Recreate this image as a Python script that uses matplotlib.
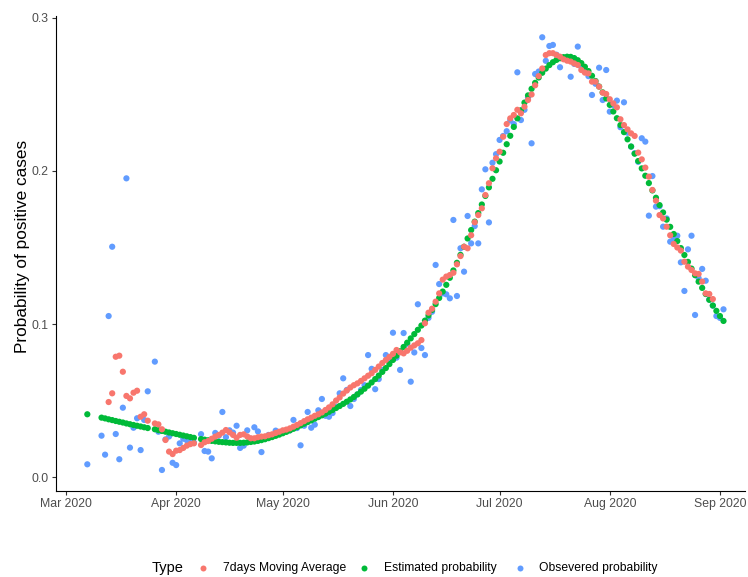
"""Daily probability of positive cases, Mar-Sep 2020 (observed, estimated, 7-day MA)."""

import numpy as np
import matplotlib

matplotlib.use("Agg")
import matplotlib.dates as mdates
import matplotlib.pyplot as plt
from matplotlib.lines import Line2D

nan = np.nan

# --- Data -------------------------------------------------------------------
# one value per day starting at the given date, nan = no record that day
OBS_START = "2020-03-07"
observed = [
    0.0083, nan, nan, nan, 0.0270, 0.0146, 0.1052, 0.1505, 0.0281, 0.0116,
    0.0453, 0.1952, 0.0192, 0.0322, 0.0384, 0.0176, 0.0373, 0.0560, nan, 0.0754,
    0.0296, 0.0046, 0.0246, 0.0265, 0.0093, 0.0078, 0.0220, 0.0250, 0.0240, 0.0230,
    0.0225, nan, 0.0280, 0.0170, 0.0166, 0.0122, 0.0288, 0.0270, 0.0425, 0.0260,
    0.0305, 0.0290, 0.0335, 0.0190, 0.0205, 0.0305, 0.0250, 0.0325, 0.0298, 0.0163,
    0.0253, 0.0275, 0.0270, 0.0303, 0.0290, 0.0295, 0.0301, 0.0305, 0.0373, 0.0320,
    0.0207, 0.0335, 0.0425, 0.0322, 0.0342, 0.0436, 0.0510, 0.0400, 0.0394, 0.0418,
    0.0460, 0.0547, 0.0645, 0.0569, 0.0464, 0.0510, 0.0540, 0.0569, 0.0600, 0.0797,
    0.0707, 0.0574, 0.0640, 0.0700, 0.0797, 0.0760, 0.0943, 0.0780, 0.0700, 0.0941,
    0.0871, 0.0623, 0.0814, 0.1129, 0.0843, 0.0797, 0.1040, 0.1080, 0.1386, 0.1261,
    0.1200, 0.1194, 0.1168, 0.1680, 0.1183, 0.1495, 0.1342, 0.1706, 0.1527, 0.1640,
    0.1527, 0.1880, 0.2011, 0.1664, 0.2054, 0.2110, 0.2203, 0.2229, 0.2260, 0.2330,
    0.2307, 0.2645, 0.2333, 0.2400, 0.2480, 0.2181, 0.2634, 0.2650, 0.2874, 0.2720,
    0.2817, 0.2824, 0.2760, 0.2678, 0.2740, 0.2730, 0.2616, 0.2700, 0.2813, 0.2680,
    0.2650, 0.2620, 0.2497, 0.2570, 0.2675, 0.2464, 0.2660, 0.2388, 0.2430, 0.2460,
    0.2286, 0.2449, 0.2250, 0.2159, 0.2116, 0.2060, 0.2214, 0.2192, 0.1708, 0.1967,
    0.1767, 0.1770, 0.1636, 0.1690, 0.1538, 0.1560, 0.1577, 0.1403, 0.1216, 0.1488,
    0.1577, 0.1059, 0.1300, 0.1360, 0.1283, 0.1160, 0.1120, 0.1052, 0.1040, 0.1096,
]

EST_START = "2020-03-07"
estimated = [
    0.0410, nan, nan, nan, 0.0388, 0.0383, 0.0377, 0.0372, 0.0366, 0.0361,
    0.0356, 0.0350, 0.0345, 0.0340, 0.0335, 0.0330, 0.0325, 0.0320, nan, 0.0312,
    0.0306, 0.0301, 0.0296, 0.0291, 0.0286, 0.0281, 0.0276, 0.0271, 0.0266, 0.0261,
    0.0256, nan, 0.0248, 0.0244, 0.0240, 0.0236, 0.0233, 0.0230, 0.0228, 0.0226,
    0.0224, 0.0223, 0.0223, 0.0223, 0.0224, 0.0226, 0.0229, 0.0232, 0.0236, 0.0241,
    0.0247, 0.0254, 0.0261, 0.0269, 0.0277, 0.0286, 0.0295, 0.0305, 0.0315, 0.0326,
    0.0337, 0.0348, 0.0359, 0.0370, 0.0381, 0.0392, 0.0403, 0.0414, 0.0426, 0.0438,
    0.0451, 0.0464, 0.0478, 0.0492, 0.0507, 0.0523, 0.0540, 0.0558, 0.0577, 0.0597,
    0.0618, 0.0640, 0.0663, 0.0687, 0.0712, 0.0738, 0.0765, 0.0793, 0.0822, 0.0850,
    0.0878, 0.0906, 0.0934, 0.0962, 0.0990, 0.1022, 0.1056, 0.1092, 0.1130, 0.1170,
    0.1212, 0.1256, 0.1302, 0.1350, 0.1400, 0.1452, 0.1505, 0.1559, 0.1614, 0.1669,
    0.1725, 0.1781, 0.1837, 0.1893, 0.1949, 0.2005, 0.2062, 0.2119, 0.2175, 0.2230,
    0.2288, 0.2344, 0.2397, 0.2447, 0.2494, 0.2537, 0.2576, 0.2611, 0.2642, 0.2669,
    0.2692, 0.2711, 0.2726, 0.2737, 0.2744, 0.2747, 0.2746, 0.2738, 0.2724, 0.2705,
    0.2681, 0.2653, 0.2622, 0.2588, 0.2552, 0.2514, 0.2474, 0.2432, 0.2389, 0.2345,
    0.2300, 0.2254, 0.2207, 0.2160, 0.2113, 0.2065, 0.2017, 0.1969, 0.1921, 0.1873,
    0.1825, 0.1777, 0.1729, 0.1682, 0.1635, 0.1588, 0.1542, 0.1496, 0.1451, 0.1406,
    0.1362, 0.1319, 0.1277, 0.1236, 0.1196, 0.1158, 0.1121, 0.1086, 0.1052, 0.1020,
]

MA_START = "2020-03-13"
moving_avg = [
    0.0490, 0.0547, 0.0786, 0.0793, 0.0688, 0.0530, 0.0514, 0.0551, 0.0564, 0.0394,
    0.0410, 0.0368, nan, 0.0350, 0.0344, 0.0312, 0.0242, 0.0166, 0.0150, 0.0172,
    0.0176, 0.0190, 0.0205, 0.0215, 0.0220, nan, 0.0209, 0.0227, 0.0235, 0.0250,
    0.0264, 0.0275, 0.0290, 0.0307, 0.0292, 0.0275, 0.0257, 0.0275, 0.0279, 0.0265,
    0.0253, 0.0253, 0.0260, 0.0264, 0.0266, 0.0273, 0.0279, 0.0288, 0.0296, 0.0305,
    0.0310, 0.0318, 0.0329, 0.0340, 0.0352, 0.0365, 0.0377, 0.0388, 0.0400, 0.0410,
    0.0422, 0.0438, 0.0455, 0.0475, 0.0500, 0.0520, 0.0545, 0.0565, 0.0585, 0.0600,
    0.0612, 0.0628, 0.0645, 0.0662, 0.0678, 0.0700, 0.0722, 0.0745, 0.0765, 0.0785,
    0.0805, 0.0830, 0.0815, 0.0808, 0.0825, 0.0845, 0.0860, 0.0874, 0.0895, 0.1005,
    0.1074, 0.1100, 0.1146, 0.1200, 0.1290, 0.1310, 0.1320, 0.1335, 0.1390, 0.1444,
    0.1505, 0.1495, 0.1580, 0.1665, 0.1712, 0.1756, 0.1843, 0.1920, 0.2018, 0.2083,
    0.2126, 0.2224, 0.2307, 0.2344, 0.2366, 0.2400, 0.2377, 0.2420, 0.2464, 0.2500,
    0.2560, 0.2620, 0.2670, 0.2758, 0.2770, 0.2770, 0.2758, 0.2747, 0.2730, 0.2721,
    0.2715, 0.2703, 0.2693, 0.2660, 0.2643, 0.2638, 0.2584, 0.2584, 0.2551, 0.2512,
    0.2503, 0.2469, 0.2442, 0.2416, 0.2338, 0.2300, 0.2272, 0.2246, 0.2229, 0.2120,
    0.2076, 0.2022, 0.1963, 0.1876, 0.1806, 0.1712, 0.1690, 0.1636, 0.1580, 0.1523,
    0.1500, 0.1480, 0.1407, 0.1375, 0.1353, 0.1331, 0.1327, 0.1277, 0.1200, 0.1196, 0.1163,
]

LEGEND_TITLE = "Type"
LABELS = ["7days Moving Average", "Estimated probability", "Obsevered probability"]
COLORS = ["#F8766D", "#00BA38", "#619CFF"]
Y_TICKS = [0.0, 0.1, 0.2, 0.3]
Y_LABEL = "Probability of positive cases"

plt.rcParams["font.family"] = ["Liberation Sans", "DejaVu Sans"]


def _days(start, values):
    vals = np.array(values, dtype=float)
    return np.datetime64(start) + np.arange(len(vals)), vals


W, H = 748, 577
fig = plt.figure(figsize=(W / 100, H / 100), dpi=100)
fig.patch.set_facecolor("white")

# panel: x from 56 to 745 px, y from 15.5 to 490.5 px
ax = fig.add_axes([56 / W, 1 - 490.5 / H, 689 / W, 475 / H])

series = [
    (OBS_START, observed, COLORS[2]),
    (EST_START, estimated, COLORS[1]),
    (MA_START, moving_avg, COLORS[0]),
]
for z, (start, values, color) in enumerate(series):
    x, y = _days(start, values)
    ax.scatter(x, y, s=20, color=color, edgecolors="none", zorder=2 + z)

base = mdates.date2num(np.datetime64("2020-03-01"))
ax.set_xlim(base - 2.81, base + 191.05)
ax.set_ylim(-0.00882, 0.30163)

ax.xaxis.set_major_locator(mdates.MonthLocator())
ax.xaxis.set_major_formatter(mdates.DateFormatter("%b %Y"))
ax.set_yticks(Y_TICKS)
ax.set_yticklabels([f"{t:.1f}" for t in Y_TICKS])

for side in ("top", "right"):
    ax.spines[side].set_visible(False)
for side in ("left", "bottom"):
    ax.spines[side].set_color("black")
    ax.spines[side].set_linewidth(0.8)

ax.tick_params(axis="both", length=3, width=0.8, color="#333333",
               labelcolor="#4D4D4D", labelsize=8.8, pad=2.5)

ax.set_ylabel(Y_LABEL, fontsize=12.4, color="black")
ax.yaxis.set_label_coords(-(56 - 30) / 689, (490.5 - 246.5) / 475)

# --- Legend (bottom, horizontal, title on the left) -------------------------
ly = 1 - 568 / H
fig.text(152 / W, ly, LEGEND_TITLE, fontsize=10.5, color="black", va="center", ha="left")
for dot_x, text_x, label, color in zip([203, 364, 520], [223, 384, 539], LABELS, COLORS):
    fig.add_artist(Line2D([dot_x / W], [ly], marker="o", markersize=4.3, color=color,
                          markeredgewidth=0, linestyle="none"))
    fig.text(text_x / W, ly, label, fontsize=8.7, color="black", va="center", ha="left")

fig.savefig("out.png", dpi=100, facecolor="white")
